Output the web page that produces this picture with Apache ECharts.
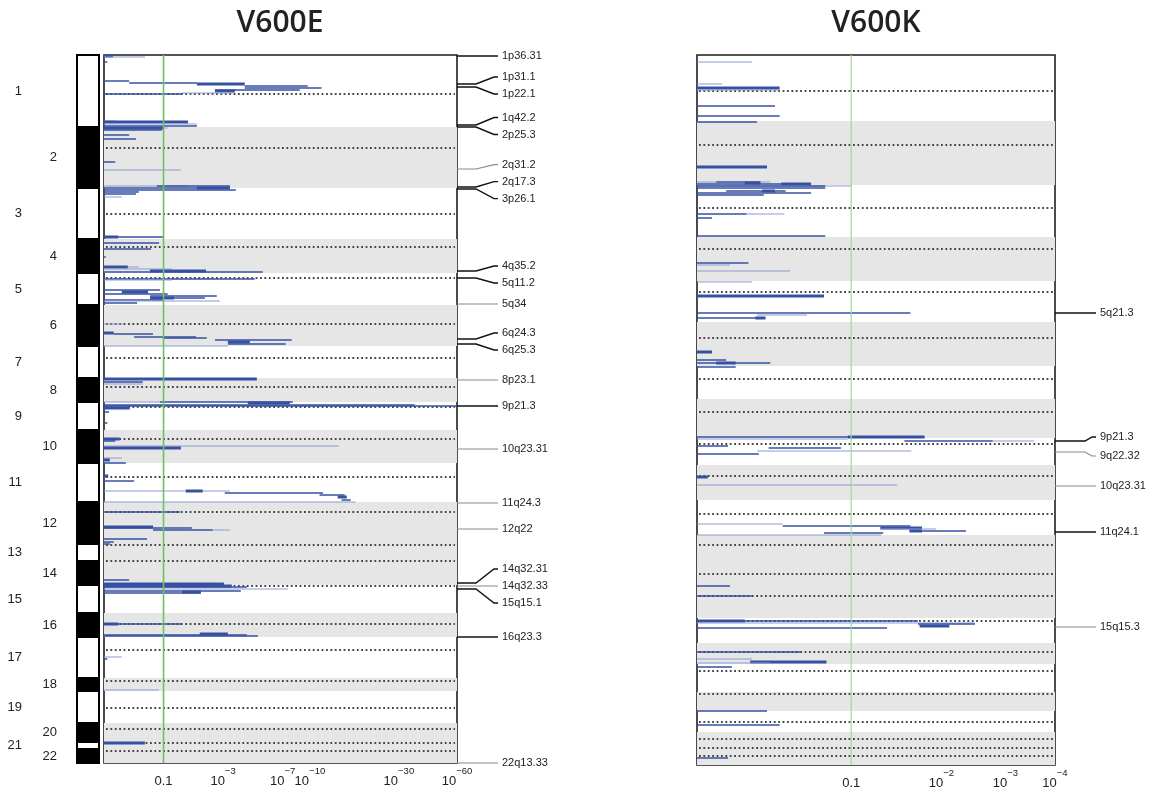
<!DOCTYPE html>
<html>
<head>
<meta charset="utf-8">
<script src="https://cdn.jsdelivr.net/npm/echarts@6/dist/echarts.min.js"></script>
<style>
  html, body { margin: 0; padding: 0; background: #fff; }
  #chart { width: 1162px; height: 792px; }
</style>
</head>
<body>
<div id="chart"></div>
<script>
// ---------------------------------------------------------------------------
// Genome layout (positions in genome bins along each panel's vertical axis)
// ---------------------------------------------------------------------------
const CHROMS = ['1','2','3','4','5','6','7','8','9','10','11','12','13','14','15','16','17','18','19','20','21','22'];

// chromosome boundaries (23 values: start of chr1 ... end of chr22)
const E_CHROM_BOUNDS = [0,72,133,184,218,250,291,323,347,375,408,447,489,506,530,558,582,623,636,668,687,694,708];
const K_CHROM_BOUNDS = [0,66,130,182,226,267,311,344,383,410,445,480,517,539,563,588,609,637,656,677,691,698,710];

// centromere positions, one per chromosome
const E_CENTROMERES = [39,93,159,192,223,269,303,332,352,384,422,457,490,506,531,569,595,626,653,674,688,696];
const K_CENTROMERES = [36,90,153,194,237,283,324,357,389,421,459,490,519,541,566,597,616,639,667,684,693,701];

// chromosomes drawn on a grey background
const SHADED_CHROMS = ['2','4','6','8','10','12','13','14','16','18','20','21','22'];

// x-axis tick values, as -log10(p)
const E_TICKS = [1, 3, 7, 10, 30, 60];
const K_TICKS = [1, 2, 3, 4];
const E_MAX = 60;
const K_MAX = 4;
const SIG_LEVEL = 1;   // p = 0.1

// association segments: [position, -log10 p from, -log10 p to, level]
// level: 0 = single marker, 1 = marker set, 2 = overlapping marker sets
const E_SEGMENTS = [
  [1,0,0.11,2],[2,0,0.61,0],[7,0,0.04,1],
  [26,0,0.34,1],[28,0.34,1.95,1],[29,1.95,4.15,2],[31,4.15,9.72,1],[33,4.15,11.6,1],[35,2.64,8.77,1],[36,2.64,3.59,2],[38,1.48,3.48,0],[39,0,1.51,1],
  [66,0,0.14,0],[67,0,1.66,2],[69,0,1.95,0],[71,0,1.95,1],[73,0,0.99,2],[73,0.99,1.10,0],[75,0,0.96,1],[80,0,0.34,1],[84,0,0.45,1],[107,0,0.14,1],[115,0,1.45,0],
  [131,0,1.66,0],[131,0.85,3.33,1],[133,0,3.33,1],[133,1.95,3.33,2],[135,0,3.64,1],[137,0,0.50,1],[139,0,0.45,1],[142,0,0.23,0],
  [182,0,0.99,1],[182,0,0.18,2],[188,0,0.90,1],[194,0,0.73,1],[202,0,0.02,1],
  [212,0,0.32,2],[212,0.32,0.50,0],[214,0,1.20,0],[216,0.71,2.28,2],[217,0,5.35,1],[224,0,4.79,1],[225,0,1.20,0],
  [235,0,0.92,1],[237,0.23,0.67,2],[239,0,1.10,1],[241,0.71,2.72,1],[243,0.71,1.26,2],[243,1.26,2.24,1],[245,0,1.01,1],[246,0,2.85,0],[248,0,0.47,1],
  [269,0,0.26,0],[278,0,0.12,2],[279,0.12,0.77,1],[282,0.42,1.92,1],[283,1.01,2.31,1],[285,2.64,7.90,1],[287,3.23,4.46,2],[289,3.23,7.30,1],[291,0,3.23,0],
  [324,0,4.93,2],[327,0,0.57,1],[329,0,0.57,0],
  [347,0,0.92,0],[347,0.92,8.01,1],[348,4.34,7.70,2],[350,0,36.2,1],[351,0,60,1],[353,0,0.35,2],[357,0,0.06,1],[368,0,0.04,1],
  [384,0,0.20,2],[386,0,0.14,1],[391,0,14.4,0],[393,0,1.45,2],[403,0,0.23,0],[405,0,0.07,2],[408,0,0.29,1],
  [421,0,0.05,2],[426,0,0.42,1],[436,0,1.59,0],[436,1.59,2.16,2],[436,2.16,3.33,0],[438,3.08,11.8,1],[440,11.3,15.5,1],[442,14.2,15.9,2],[445,14.9,16.7,1],[447,0,17.7,0],
  [457,0,1.42,1],[472,0,0.77,2],[473,0,1.78,1],[475,0.77,2.55,1],[475,2.55,3.33,0],[484,0,0.65,1],[487,0,0.12,1],[489,0,0.07,1],
  [525,0,0.34,1],[529,0,3.04,2],[531,0,3.43,2],[532,0,4.28,1],[534,0,7.50,0],[536,0,3.92,1],[537,1.48,2.09,2],[538,0,2.09,1],
  [569,0,0.18,2],[569,0.18,1.48,1],[579,2.05,3.23,2],[580,0,4.28,1],[581,0,5.00,1],
  [602,0,0.23,0],[604,0,0.04,1],[635,0,0.90,0],[688,0,0.61,2]
];

const K_SEGMENTS = [
  [7,0,0.28,0],[29,0,0.12,0],[33,0,0.45,2],[35,0,0.45,0],[51,0,0.42,1],[61,0,0.45,1],[67,0,0.31,1],
  [112,0,0.37,2],[127,0,0.09,0],[127,0.09,0.33,1],[127,0.33,0.39,0],[128,0.24,0.33,2],[129,0,0.67,1],[129,0.46,0.67,2],[131,0,1.00,0],[131,0,0.78,1],[133,0,0.78,1],
  [136,0.14,0.49,1],[136,0.34,0.42,2],[138,0,0.67,1],[140,0,0.35,1],[159,0,0.25,1],[159,0.25,0.48,0],[163,0,0.07,1],
  [181,0,0.78,1],[208,0,0.26,1],[210,0,0.16,0],[216,0,0.52,0],
  [227,0,0.28,0],[241,0,0.77,2],[258,0,1.61,1],[260,0.31,0.64,0],[263,0,0.36,1],[263,0.30,0.36,2],
  [297,0,0.07,2],[305,0,0.14,1],[308,0,0.39,1],[308,0.09,0.19,2],[312,0,0.19,1],
  [382,0,1.78,1],[382,0.97,1.78,2],[384,0,0.97,0],[386,1.54,2.78,1],[386,2.78,3.55,0],[391,0,0.15,1],[393,0.38,0.91,1],[396,0.31,0.91,0],[396,0.91,1.62,0],[399,0,0.32,1],
  [422,0,0.05,2],[430,0,1.46,0],
  [469,0,0.47,0],[471,0.47,1.61,1],[473,1.28,1.75,2],[474,1.28,1.93,0],[476,1.60,2.35,1],[476,1.60,1.75,2],[478,0.77,1.31,1],[480,0,1.29,0],
  [531,0,0.16,1],[541,0,0.28,1],
  [566,0,1.70,1],[566,0,0.24,2],[568,0,2.49,0],[569,1.70,2.49,1],[571,1.72,2.11,2],[573,0,1.35,1],
  [597,0,0.59,1],[604,0,0.28,0],[607,0.27,0.79,2],[608,0,0.39,0],[612,0,0.17,1],
  [656,0,0.37,1],[670,0,0.45,1],[703,0,0.15,1]
];

// annotated loci: [cytoband, position]
const E_LOCI = [
  ['1p36.31',1],['1p31.1',29],['1p22.1',32],['1q42.2',70],['2p25.3',72],['2q31.2',114],['2q17.3',132],['3p26.1',134],
  ['4q35.2',216],['5q11.2',223],['5q34',249],['6q24.3',284],['6q25.3',289],['8p23.1',325],['9p21.3',351],
  ['10q23.31',394],['11q24.3',448],['12q22',474],['14q32.31',528],['14q32.33',531],['15q15.1',534],['16q23.3',582],['22q13.33',708]
];
const K_LOCI = [
  ['5q21.3',258],['9p21.3',386],['9q22.32',397],['10q23.31',431],['11q24.1',477],['15q15.3',572]
];

// ---------------------------------------------------------------------------
// Styling
// ---------------------------------------------------------------------------
const FONT = 'Liberation Sans';
const SEG_STYLE = [
  { stroke: '#8a9bd2', lineWidth: 1 },
  { stroke: '#3650a2', lineWidth: 1.5 },
  { stroke: '#3650a2', lineWidth: 3 }
];
const STRONG_LEADERS = new Set(['1p36.31','1p31.1','1p22.1','1q42.2','2p25.3','2q17.3','3p26.1','4q35.2','5q11.2',
  '6q24.3','6q25.3','9p21.3','14q32.31','15q15.1','16q23.3','5q21.3','11q24.1']);

// axis transform: log10(1 + (-log10 p))
const toAxis = L => Math.log10(1 + L);

const PANELS = [
  { name: 'V600E', bounds: E_CHROM_BOUNDS, centro: E_CENTROMERES, ticks: E_TICKS, max: E_MAX,
    segs: E_SEGMENTS, loci: E_LOCI, left: 104, width: 353, height: 708, gap: 17,
    leader: { run: 19, diag: 18, end: 41, text: 45 }, green: '#6cc25c', greenWidth: 1.6 },
  { name: 'V600K', bounds: K_CHROM_BOUNDS, centro: K_CENTROMERES, ticks: K_TICKS, max: K_MAX,
    segs: K_SEGMENTS, loci: K_LOCI, left: 697, width: 358, height: 710, gap: 19,
    leader: { run: 30, diag: 7, end: 41, text: 45 }, green: '#a3d79a', greenWidth: 1.2 }
];
const TOP = 55;

// place cytoband labels so that they keep a minimum spacing
function spreadLabels(anchors, gap) {
  let clusters = anchors.map((a, i) => ({ idx: [i], anchors: [a] }));
  const extent = c => {
    const m = c.anchors.reduce((s, v) => s + v, 0) / c.anchors.length;
    const h = (c.anchors.length - 1) * gap / 2;
    return { mid: m, top: m - h, bottom: m + h };
  };
  let merged = true;
  while (merged) {
    merged = false;
    for (let i = 0; i < clusters.length - 1; i++) {
      if (extent(clusters[i + 1]).top - extent(clusters[i]).bottom < gap) {
        clusters[i] = { idx: clusters[i].idx.concat(clusters[i + 1].idx),
                        anchors: clusters[i].anchors.concat(clusters[i + 1].anchors) };
        clusters.splice(i + 1, 1);
        merged = true;
        break;
      }
    }
  }
  const out = [];
  clusters.forEach(c => {
    const e = extent(c);
    c.idx.forEach((k, j) => { out[k] = e.top + j * gap; });
  });
  return out;
}

function supLabel(v) {
  const L = Math.round(Math.pow(10, v) - 1);
  if (L === 1) return '{n|0.1}';
  return '{n|10}{s|\u2212' + L + '}';
}

const grids = [{ left: 77, top: TOP, width: 22, height: 708 }];
const xAxes = [{ gridIndex: 0, type: 'value', min: 0, max: 1, show: false }];
const yAxes = [{ gridIndex: 0, type: 'value', min: 0, max: 708, inverse: true, show: false }];
const series = [];

// ideogram with chromosome numbers
series.push({
  type: 'custom', xAxisIndex: 0, yAxisIndex: 0, silent: true, clip: false, z: 3,
  data: CHROMS.map((c, i) => [E_CHROM_BOUNDS[i], E_CHROM_BOUNDS[i + 1], i]),
  renderItem: (params, api) => {
    const i = api.value(2);
    const p0 = api.coord([0, api.value(0)]);
    const p1 = api.coord([1, api.value(1)]);
    const dark = i % 2 === 1;
    const label = CHROMS[i];
    return {
      type: 'group',
      children: [
        { type: 'rect', shape: { x: p0[0], y: p0[1], width: p1[0] - p0[0], height: p1[1] - p0[1] },
          style: { fill: dark ? '#000' : '#fff', stroke: '#000', lineWidth: 2 } },
        { type: 'text', style: { text: label, x: p0[0] + (dark ? -20 : -55), y: (p0[1] + p1[1]) / 2,
          align: 'right', verticalAlign: 'middle', fontSize: 13, fontFamily: FONT, fill: '#222' } }
      ]
    };
  }
});

PANELS.forEach((P, k) => {
  const g = k + 1;
  const xMax = toAxis(P.max);
  grids.push({ left: P.left, top: TOP, width: P.width, height: P.height, show: true,
               borderColor: '#1e1e1e', borderWidth: 1.6, backgroundColor: 'transparent' });
  xAxes.push({
    gridIndex: g, type: 'value', min: 0, max: xMax, position: 'bottom',
    axisLine: { show: false, onZero: false }, splitLine: { show: false },
    axisTick: { show: true, inside: true, length: 4, customValues: P.ticks.filter(t => t !== SIG_LEVEL && t !== P.max).map(toAxis),
                lineStyle: { color: '#222', width: 1.4 } },
    axisLabel: {
      customValues: P.ticks.map(toAxis), showMinLabel: true, showMaxLabel: true, margin: 3,
      formatter: supLabel,
      rich: {
        n: { fontSize: 13, fontFamily: FONT, color: '#222', lineHeight: 22, verticalAlign: 'bottom' },
        s: { fontSize: 9.5, fontFamily: FONT, color: '#222', lineHeight: 22, verticalAlign: 'top' }
      }
    }
  });
  yAxes.push({ gridIndex: g, type: 'value', min: 0, max: P.height, inverse: true, show: false });

  // grey backgrounds for alternating chromosomes
  series.push({
    type: 'custom', xAxisIndex: g, yAxisIndex: g, silent: true, z: 1,
    data: CHROMS.map((c, i) => [P.bounds[i], P.bounds[i + 1], SHADED_CHROMS.includes(c) ? 1 : 0]).filter(d => d[2]),
    renderItem: (params, api) => {
      const p0 = api.coord([0, api.value(0)]);
      const p1 = api.coord([xMax, api.value(1)]);
      return { type: 'rect', shape: { x: p0[0], y: p0[1], width: p1[0] - p0[0], height: p1[1] - p0[1] },
               style: { fill: '#e6e6e6' } };
    }
  });

  // dotted centromere lines
  series.push({
    type: 'custom', xAxisIndex: g, yAxisIndex: g, silent: true, z: 2,
    data: P.centro.map(v => [v]),
    renderItem: (params, api) => {
      const p0 = api.coord([0, api.value(0)]);
      const p1 = api.coord([xMax, api.value(0)]);
      return { type: 'line', shape: { x1: p0[0] + 2, y1: p0[1], x2: p1[0] - 2, y2: p1[1] },
               style: { stroke: '#444', lineWidth: 1.8, lineDash: [1.8, 2.6] } };
    }
  });

  // association segments
  series.push({
    type: 'custom', xAxisIndex: g, yAxisIndex: g, silent: true, z: 3,
    data: P.segs.map(s => [toAxis(s[1]), toAxis(s[2]), s[0], s[3]]),
    renderItem: (params, api) => {
      const a = api.coord([api.value(0), api.value(2)]);
      const b = api.coord([api.value(1), api.value(2)]);
      const st = SEG_STYLE[api.value(3)];
      return { type: 'line', shape: { x1: a[0], y1: a[1], x2: b[0], y2: b[1] },
               style: { stroke: st.stroke, lineWidth: st.lineWidth } };
    }
  });

  // p = 0.1 reference line
  series.push({
    type: 'custom', xAxisIndex: g, yAxisIndex: g, silent: true, z: 4,
    data: [[toAxis(SIG_LEVEL)]],
    renderItem: (params, api) => {
      const p0 = api.coord([api.value(0), 0]);
      const p1 = api.coord([api.value(0), P.height]);
      return { type: 'line', shape: { x1: p0[0], y1: p0[1], x2: p1[0], y2: p1[1] },
               style: { stroke: P.green, lineWidth: P.greenWidth } };
    }
  });

  // cytoband labels with leader lines
  const labelPos = spreadLabels(P.loci.map(l => l[1]), P.gap);
  series.push({
    type: 'custom', xAxisIndex: g, yAxisIndex: g, silent: true, clip: false, z: 5,
    data: P.loci.map((l, i) => [xMax, l[1], labelPos[i], i]),
    renderItem: (params, api) => {
      const name = P.loci[api.value(3)][0];
      const a = api.coord([api.value(0), api.value(1)]);
      const yl = api.coord([api.value(0), api.value(2)])[1];
      const x0 = a[0], ya = a[1], G = P.leader;
      const strong = STRONG_LEADERS.has(name);
      const pts = Math.abs(ya - yl) < 0.5
        ? [[x0, ya], [x0 + G.end, ya]]
        : [[x0, ya], [x0 + G.run, ya], [x0 + G.run + G.diag, yl], [x0 + G.end, yl]];
      return {
        type: 'group',
        children: [
          { type: 'polyline', shape: { points: pts },
            style: { stroke: strong ? '#111' : '#8a8a8a', lineWidth: strong ? 1.4 : 1.2, fill: null } },
          { type: 'text', style: { text: name, x: x0 + G.text, y: yl, align: 'left', verticalAlign: 'middle',
            fontSize: 11, fontFamily: FONT, fill: '#222' } }
        ]
      };
    }
  });
});

const chart = echarts.init(document.getElementById('chart'), null, { renderer: 'canvas' });
chart.setOption({
  animation: false,
  backgroundColor: '#fff',
  graphic: [
    { type: 'text', x: 280, y: 23, style: { text: 'V600E', align: 'center', verticalAlign: 'middle',
      fontSize: 30, fontWeight: 600, fontFamily: 'Open Sans', fill: '#222' } },
    { type: 'text', x: 876, y: 23, style: { text: 'V600K', align: 'center', verticalAlign: 'middle',
      fontSize: 30, fontWeight: 600, fontFamily: 'Open Sans', fill: '#222' } }
  ],
  grid: grids,
  xAxis: xAxes,
  yAxis: yAxes,
  series: series
});
</script>
</body>
</html>
